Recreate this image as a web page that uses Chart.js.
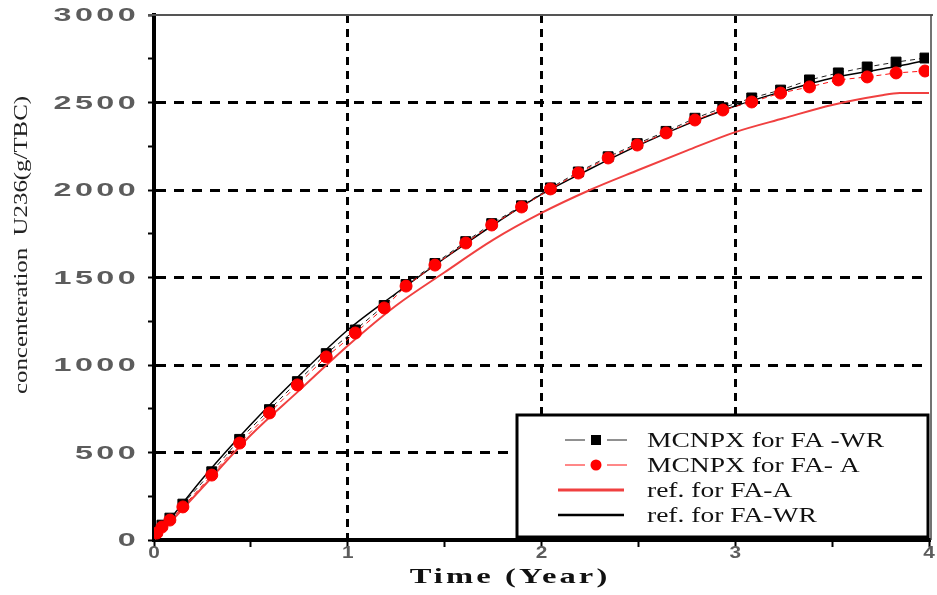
<!DOCTYPE html>
<html><head><meta charset="utf-8">
<script src="https://cdn.jsdelivr.net/npm/chart.js@4"></script>
<style>html,body{margin:0;padding:0;background:#fff;overflow:hidden}canvas{display:block}</style>
</head><body>
<canvas id="c" width="937" height="595"></canvas>
<script>
// ---- data ----
const mcnpxTime = [0.015,0.041,0.082,0.149,0.298,0.442,0.596,0.740,0.889,1.039,1.188,1.301,1.450,1.609,1.743,1.897,2.046,2.190,2.344,2.494,2.643,2.792,2.936,3.085,3.234,3.383,3.532,3.681,3.830,3.979];
const mcnpxWR = [50,85,125,205,390,575,745,905,1065,1200,1340,1460,1580,1705,1808,1910,2012,2103,2190,2265,2335,2410,2470,2526,2571,2629,2669,2703,2731,2754];
const mcnpxA  = [40,74,114,189,371,554,726,886,1046,1183,1326,1451,1571,1697,1800,1903,2006,2097,2183,2257,2326,2400,2457,2503,2554,2589,2629,2646,2669,2680];
const refTime = [0,0.25,0.5,0.75,1.0,1.25,1.5,1.75,2.0,2.25,2.5,2.75,3.0,3.25,3.5,3.75,3.85,4.0];
const refA    = [0,300,600,855,1110,1340,1530,1715,1869,2000,2114,2225,2331,2410,2486,2540,2554,2554];
const refWR   = [0,350,660,940,1200,1410,1610,1800,1975,2120,2255,2375,2480,2565,2640,2690,2710,2745];
const seriesLabels = ['MCNPX for FA -WR','MCNPX for FA- A','ref. for FA-A','ref. for FA-WR'];
const xTitle = 'Time (Year)';
const yTitle = 'concenteration  U236(g/TBC)';
const yMin = 0, yMax = 3000, yStep = 250, yLabelStep = 500;
const xMin = 0, xMax = 4, xStep = 0.5;

function pts(xs, ys){ return xs.map((x,i)=>({x:x, y:ys[i]})); }

const decor = {
  id: 'decor',
  beforeDatasetsDraw(chart){
    const {ctx, chartArea:a, scales:{x,y}} = chart;
    ctx.save();
    ctx.strokeStyle = '#555'; ctx.lineWidth = 2;
    const yt = y.getPixelForValue(yMax);
    ctx.beginPath(); ctx.moveTo(a.left-6, yt); ctx.lineTo(a.right+4, yt); ctx.stroke();
    ctx.lineWidth = 1.5; ctx.strokeStyle = '#444';
    const xr = x.getPixelForValue(xMax)+2;
    ctx.beginPath(); ctx.moveTo(xr, yt); ctx.lineTo(xr, a.bottom); ctx.stroke();
    ctx.restore();
  },
  afterDraw(chart){
    const {ctx, chartArea:a, scales:{x,y}} = chart;
    ctx.save();
    // y tick labels
    ctx.fillStyle = '#5c5c5c';
    ctx.font = 'bold 19px "Liberation Sans", Arial, sans-serif';
    ctx.textAlign = 'right'; ctx.textBaseline = 'middle';
    try { ctx.letterSpacing = '2px'; } catch(e){}
    y.ticks.forEach(t => {
      if (t.value % yLabelStep !== 0) return;
      const py = y.getPixelForValue(t.value);
      ctx.save(); ctx.translate(a.left-15, py+1); ctx.scale(1.7,1);
      ctx.fillText(String(t.value), 0, 0); ctx.restore();
    });
    // x tick labels
    ctx.font = 'bold 16px "Liberation Sans", Arial, sans-serif';
    ctx.textAlign = 'center';
    try { ctx.letterSpacing = '0px'; } catch(e){}
    x.ticks.forEach(t => {
      if (!Number.isInteger(t.value)) return;
      const px = x.getPixelForValue(t.value);
      ctx.save(); ctx.translate(px, a.bottom+14); ctx.scale(1.3,1);
      ctx.fillText(String(t.value), 0, 0); ctx.restore();
    });
    // axis titles
    ctx.fillStyle = '#111';
    ctx.font = 'bold 21px "Liberation Serif", "Times New Roman", serif';
    try { ctx.letterSpacing = '2px'; } catch(e){}
    ctx.save(); ctx.translate(510, 578); ctx.scale(1.55,1);
    ctx.textAlign='center'; ctx.fillText(xTitle, 0, 0); ctx.restore();
    try { ctx.letterSpacing = '0px'; } catch(e){}
    ctx.fillStyle = '#222';
    ctx.font = '18px "Liberation Serif", "Times New Roman", serif';
    ctx.save(); ctx.translate(22, 245); ctx.rotate(-Math.PI/2); ctx.scale(1.38,1);
    ctx.textAlign='center'; ctx.fillText(yTitle, 0, 0); ctx.restore();

    // legend
    const bx=517, by=415, bw=411, bh=122;
    ctx.fillStyle='#fff'; ctx.fillRect(bx,by,bw,bh);
    ctx.strokeStyle='#000'; ctx.lineWidth=3; ctx.strokeRect(bx,by,bw,bh);
    const rows=[440,465,490,515];
    chart.data.datasets.forEach((ds,i)=>{
      const ry = rows[i];
      ctx.save();
      ctx.strokeStyle = ds.borderColor;
      if (ds.pointRadius > 0) {
        ctx.lineWidth = 1; ctx.setLineDash([]);
        ctx.beginPath(); ctx.moveTo(565,ry); ctx.lineTo(585,ry); ctx.moveTo(607,ry); ctx.lineTo(627,ry); ctx.stroke();
        ctx.fillStyle = ds.pointBackgroundColor;
        if (ds.pointStyle === 'rect') ctx.fillRect(591,ry-5,10,10);
        else { ctx.beginPath(); ctx.arc(596,ry,5.5,0,Math.PI*2); ctx.fill(); }
      } else {
        ctx.lineWidth = ds.borderWidth + 1;
        ctx.beginPath(); ctx.moveTo(558,ry); ctx.lineTo(624,ry); ctx.stroke();
      }
      ctx.fillStyle='#111';
      ctx.font='22px "Liberation Serif", "Times New Roman", serif';
      ctx.textAlign='left'; ctx.textBaseline='middle';
      ctx.translate(647, ry+1); ctx.scale(1.25,1);
      ctx.fillText(ds.label, 0, 0);
      ctx.restore();
    });
    ctx.restore();
  }
};

new Chart(document.getElementById('c'), {
  type: 'line',
  data: {
    datasets: [
      { label: seriesLabels[0], data: pts(mcnpxTime, mcnpxWR), borderColor:'#222', borderWidth:1, borderDash:[5,4],
        pointStyle:'rect', pointRadius:7, pointBackgroundColor:'#000', pointBorderColor:'#000', order:1 },
      { label: seriesLabels[1], data: pts(mcnpxTime, mcnpxA), borderColor:'#ff1010', borderWidth:1, borderDash:[5,4],
        pointStyle:'circle', pointRadius:6, pointBackgroundColor:'#ff0000', pointBorderColor:'#ff0000', order:0 },
      { label: seriesLabels[2], data: pts(refTime, refA), borderColor:'#f04040', borderWidth:2, pointRadius:0,
        cubicInterpolationMode:'monotone', order:3 },
      { label: seriesLabels[3], data: pts(refTime, refWR), borderColor:'#000', borderWidth:1.5, pointRadius:0,
        cubicInterpolationMode:'monotone', order:2 }
    ]
  },
  options: {
    responsive:false, animation:false, devicePixelRatio:1,
    layout:{ padding:{ left:0, top:15, right:5, bottom:0 } },
    plugins:{ legend:{display:false}, tooltip:{enabled:false} },
    scales:{
      x:{ type:'linear', min:xMin, max:xMax,
        ticks:{ stepSize:xStep, display:false },
        afterFit(s){ s.height = 55; },
        border:{ display:true, color:'#000', width:4, dash:[8,6] },
        grid:{ drawTicks:true, tickLength:7, tickWidth:2, tickColor:'#000', tickBorderDash:[],
          lineWidth:3,
          color:(c)=>{ const v=c.tick && c.tick.value; return (Number.isInteger(v) && v>xMin && v<xMax) ? '#000' : 'rgba(0,0,0,0)'; } }
      },
      y:{ type:'linear', min:yMin, max:yMax,
        ticks:{ stepSize:yStep, display:false },
        afterFit(s){ s.width = 154; },
        border:{ display:true, color:'#000', width:4, dash:[10,8] },
        grid:{ drawTicks:true, tickLength:6, tickWidth:2, tickColor:'#000', tickBorderDash:[],
          lineWidth:3,
          color:(c)=>{ const v=c.tick && c.tick.value; return (v % yLabelStep === 0 && v>yMin && v<yMax) ? '#000' : 'rgba(0,0,0,0)'; } }
      }
    }
  },
  plugins:[decor]
});
</script>
</body></html>
